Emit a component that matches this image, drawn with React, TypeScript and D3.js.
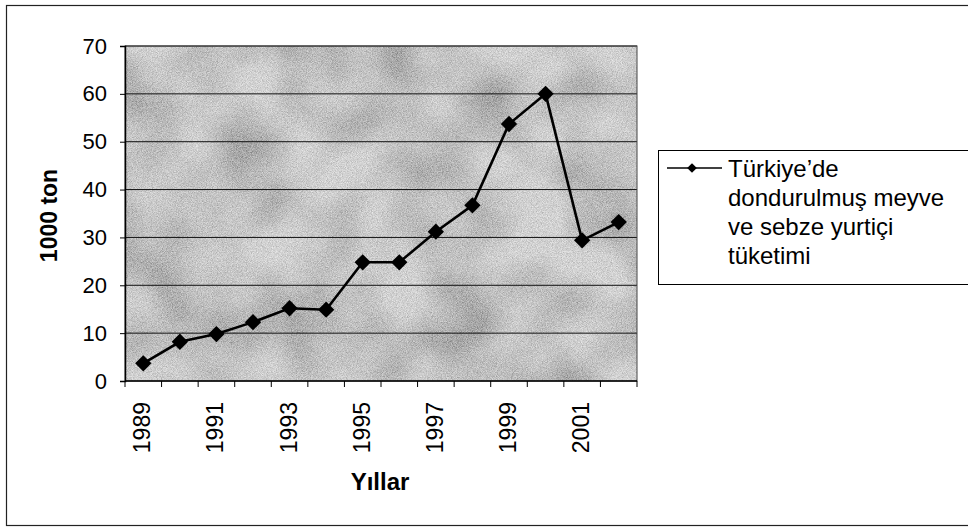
import React, { useEffect, useRef } from 'react';
import * as d3 from 'd3';

const years = ['1989', '1990', '1991', '1992', '1993', '1994', '1995', '1996', '1997', '1998', '1999', '2000', '2001', '2002'];
const consumption = [3.7, 8.2, 9.8, 12.3, 15.2, 14.9, 24.8, 24.8, 31.2, 36.7, 53.7, 60, 29.4, 33.2];
const yTicks = [0, 10, 20, 30, 40, 50, 60, 70];
const legendLines = ['Türkiye\u2019de', 'dondurulmuş meyve', 've sebze yurtiçi', 'tüketimi'];

const width = 968;
const height = 529;
const margin = { top: 46, right: 331, bottom: 148, left: 125 };
const font = 'Liberation Sans, Arial, sans-serif';

function App() {
  const svgRef = useRef<SVGSVGElement>(null);

  useEffect(() => {
    const svg = d3.select(svgRef.current);
    svg.selectAll('*').remove();

    const x = d3.scaleBand()
      .domain(years)
      .range([margin.left, width - margin.right]);

    const y = d3.scaleLinear()
      .domain([0, 70])
      .range([height - margin.bottom, margin.top]);

    // mottled grey texture for the plot area
    const defs = svg.append('defs');
    const filter = defs.append('filter').attr('id', 'grain')
      .attr('filterUnits', 'userSpaceOnUse')
      .attr('x', margin.left).attr('y', margin.top)
      .attr('width', width - margin.left - margin.right)
      .attr('height', height - margin.top - margin.bottom);
    filter.append('feTurbulence')
      .attr('type', 'fractalNoise').attr('baseFrequency', 0.014)
      .attr('numOctaves', 2).attr('seed', 7).attr('result', 'blob');
    filter.append('feColorMatrix').attr('in', 'blob').attr('type', 'matrix')
      .attr('values', '1.8 0 0 0 -0.2  1.8 0 0 0 -0.2  1.8 0 0 0 -0.2  0 0 0 0 0.55')
      .attr('result', 'blobs');
    filter.append('feTurbulence')
      .attr('type', 'fractalNoise').attr('baseFrequency', 1.2)
      .attr('numOctaves', 1).attr('seed', 2).attr('result', 'fine');
    filter.append('feColorMatrix').attr('in', 'fine').attr('type', 'matrix')
      .attr('values', '1.6 0 0 0 -0.3  1.6 0 0 0 -0.3  1.6 0 0 0 -0.3  0 0 0 0 0.4')
      .attr('result', 'fines');
    const merge = filter.append('feMerge');
    merge.append('feMergeNode').attr('in', 'SourceGraphic');
    merge.append('feMergeNode').attr('in', 'blobs');
    merge.append('feMergeNode').attr('in', 'fines');

    // outer frame
    svg.append('rect')
      .attr('x', 6.5).attr('y', 5.5)
      .attr('width', width).attr('height', 520)
      .attr('fill', 'white').attr('stroke', '#222').attr('stroke-width', 1.2);

    const plotW = width - margin.left - margin.right;
    const plotH = height - margin.top - margin.bottom;

    svg.append('rect')
      .attr('x', margin.left).attr('y', margin.top)
      .attr('width', plotW).attr('height', plotH)
      .attr('fill', '#a9a9a9')
      .attr('filter', 'url(#grain)');

    // grid lines
    svg.append('g')
      .selectAll('line')
      .data(yTicks.slice(1))
      .join('line')
      .attr('x1', margin.left).attr('x2', width - margin.right)
      .attr('y1', d => y(d)).attr('y2', d => y(d))
      .attr('stroke', '#111').attr('stroke-width', 1);

    svg.append('rect')
      .attr('x', margin.left).attr('y', margin.top)
      .attr('width', plotW).attr('height', plotH)
      .attr('fill', 'none').attr('stroke', '#444').attr('stroke-width', 1);

    // y axis
    const yAxis = svg.append('g')
      .attr('transform', `translate(${margin.left},0)`)
      .call(d3.axisLeft(y).tickValues(yTicks).tickSize(5).tickPadding(13));
    yAxis.select('.domain').attr('stroke', '#000').attr('stroke-width', 1.5);
    yAxis.selectAll('.tick line').attr('stroke', '#000');
    yAxis.selectAll('.tick text')
      .attr('font-family', font).attr('font-size', 22).attr('fill', '#000');

    // x axis: ticks between categories, labels every other year
    const xAxis = svg.append('g')
      .attr('transform', `translate(0,${height - margin.bottom})`);
    xAxis.append('line')
      .attr('x1', margin.left).attr('x2', width - margin.right)
      .attr('stroke', '#000').attr('stroke-width', 1.5);
    const edges = years.map(d => x(d) as number).concat([width - margin.right]);
    xAxis.selectAll('line.tk')
      .data(edges)
      .join('line')
      .attr('class', 'tk')
      .attr('x1', d => d).attr('x2', d => d)
      .attr('y1', 0).attr('y2', 6)
      .attr('stroke', '#000');
    xAxis.selectAll('text')
      .data(years.filter((_, i) => i % 2 === 0))
      .join('text')
      .attr('transform', d => `translate(${(x(d) as number) + x.bandwidth() / 2 + 7},21) rotate(-90)`)
      .attr('text-anchor', 'end')
      .attr('font-family', font).attr('font-size', 23)
      .attr('fill', '#000')
      .text(d => d);

    // axis titles
    svg.append('text')
      .attr('transform', `translate(57,${(margin.top + height - margin.bottom) / 2 + 2}) rotate(-90)`)
      .attr('text-anchor', 'middle')
      .attr('font-family', font).attr('font-size', 23).attr('font-weight', 'bold')
      .text('1000 ton');

    svg.append('text')
      .attr('x', 380)
      .attr('y', 490)
      .attr('text-anchor', 'middle')
      .attr('font-family', font).attr('font-size', 24).attr('font-weight', 'bold')
      .text('Yıllar');

    // series
    const cx = (d: string) => (x(d) as number) + x.bandwidth() / 2;
    svg.append('path')
      .datum(consumption)
      .attr('fill', 'none')
      .attr('stroke', '#000')
      .attr('stroke-width', 2.6)
      .attr('d', d3.line<number>()
        .x((_, i) => cx(years[i]))
        .y(d => y(d)));

    const diamond = d3.symbol().type(d3.symbolDiamond2).size(170);
    svg.append('g')
      .selectAll('path')
      .data(consumption)
      .join('path')
      .attr('transform', (d, i) => `translate(${cx(years[i])},${y(d)})`)
      .attr('d', diamond)
      .attr('fill', '#000');

    // legend
    const lg = svg.append('g').attr('transform', 'translate(658,150)');
    lg.append('rect')
      .attr('x', 0.5).attr('y', 0.5)
      .attr('width', 320).attr('height', 134)
      .attr('fill', 'white').attr('stroke', '#000');
    lg.append('line')
      .attr('x1', 9).attr('x2', 64).attr('y1', 18).attr('y2', 18)
      .attr('stroke', '#000').attr('stroke-width', 1.5);
    lg.append('path')
      .attr('transform', 'translate(34,18)')
      .attr('d', d3.symbol().type(d3.symbolDiamond2).size(60))
      .attr('fill', '#000');
    lg.selectAll('text')
      .data(legendLines)
      .join('text')
      .attr('x', 70)
      .attr('y', (_, i) => 27 + i * 29)
      .attr('font-family', font).attr('font-size', 24)
      .attr('fill', '#000')
      .text(d => d);
  }, []);

  return <svg ref={svgRef} width={width} height={height} style={{ display: 'block', position: 'absolute', left: 0, top: 0 }} />;
}

export default App;
